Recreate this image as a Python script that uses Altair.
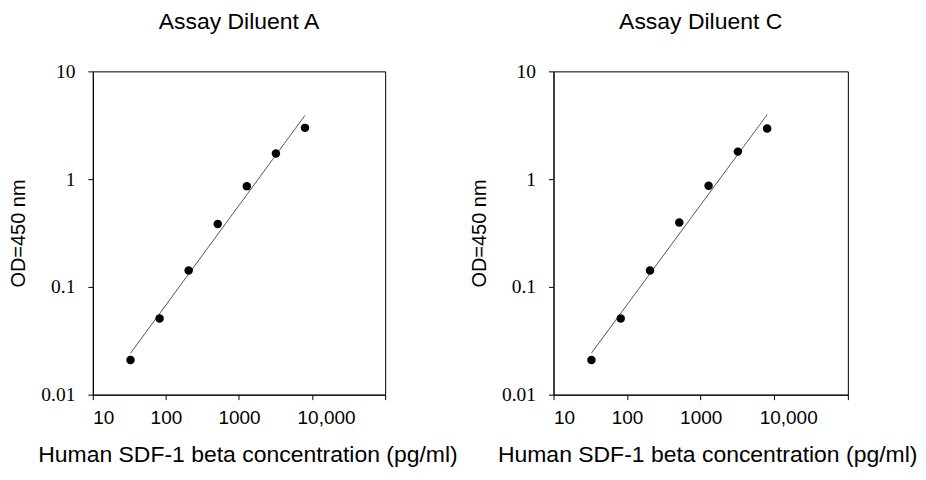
import altair as alt
import pandas as pd

# ---- data ----
conc = [32.77, 81.92, 204.8, 512, 1280, 3200, 8000]
od_a = [0.021, 0.051, 0.142, 0.384, 0.861, 1.73, 2.99]
od_c = [0.021, 0.051, 0.142, 0.395, 0.869, 1.80, 2.95]
panel_titles = ["Assay Diluent A", "Assay Diluent C"]
x_tick_values = [10, 100, 1000, 10000, 100000]
x_tick_labels = ["10", "100", "1000", "10,000", ""]
y_tick_values = [0.01, 0.1, 1, 10]
y_tick_labels = ["0.01", "0.1", "1", "10"]
x_title = "Human SDF-1 beta concentration (pg/ml)"
y_title = "OD=450 nm"


def label_expr(values, labels):
    vals = ",".join(repr(v) for v in values)
    labs = ",".join("'" + s + "'" for s in labels)
    return f"[{labs}][indexof([{vals}], datum.value)]"


def panel(od, title, width, x_title_x):
    df = pd.DataFrame({"conc": conc, "od": od})
    xenc = alt.X(
        "conc:Q",
        scale=alt.Scale(type="log", domain=[10, 100000], nice=False),
        axis=alt.Axis(
            values=x_tick_values,
            labelExpr=label_expr(x_tick_values, x_tick_labels),
            labelOffset={"condition": {"test": "datum.value == 10000", "value": 14}, "value": 0},
            title=x_title,
            labelFont="Liberation Sans",
            labelFontSize=19,
            labelPadding=9,
            titleFont="Liberation Sans",
            titleFontSize=23,
            titleFontWeight="normal",
            titleX=x_title_x,
            titleY=66.5,
            titleAlign="center",
            titleBaseline="alphabetic",
        ),
    )
    yenc = alt.Y(
        "od:Q",
        scale=alt.Scale(type="log", domain=[0.01, 10], nice=False),
        axis=alt.Axis(
            values=y_tick_values,
            labelExpr=label_expr(y_tick_values, y_tick_labels),
            title=y_title,
            labelFont="Liberation Serif",
            labelFontSize=19.5,
            labelPadding=13,
            titleFont="Liberation Sans",
            titleFontSize=20,
            titleFontWeight="normal",
            titleAngle=270,
            titleX=-68,
            titleY=162,
            titleAlign="center",
            titleBaseline="alphabetic",
        ),
    )
    base = alt.Chart(df)
    line = (
        base.transform_regression("conc", "od", method="pow")
        .mark_line(color="#555555", strokeWidth=1)
        .encode(x=xenc, y=yenc)
    )
    pts = base.mark_circle(size=72, color="black", opacity=1).encode(x=xenc, y=yenc)
    return alt.layer(line, pts).properties(
        width=width,
        height=324,
        title=alt.TitleParams(
            title,
            font="Liberation Sans",
            fontSize=23,
            fontWeight="normal",
            color="black",
            anchor="middle",
            frame="group",
            offset=27.4,
        ),
    )


chart = (
    alt.hconcat(
        panel(od_a, panel_titles[0], 293, 155),
        panel(od_c, panel_titles[1], 295, 154),
        spacing=168.7,
        bounds="flush",
    )
    .properties(padding={"top": 2, "left": 0, "right": 0, "bottom": 0}, background="white")
    .configure_view(stroke="black", strokeWidth=1, fill="white")
    .configure_axis(
        grid=False,
        domainColor="black",
        tickColor="black",
        tickSize=5,
        labelColor="black",
        titleColor="black",
    )
)

chart.save("out.html", embed_options={"renderer": "svg", "actions": False})
